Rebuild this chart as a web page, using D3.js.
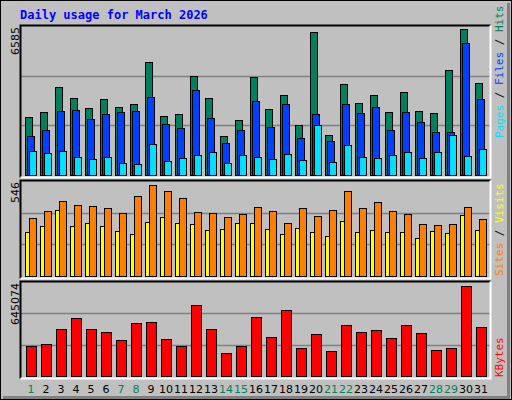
<!DOCTYPE html>
<html>
<head>
<meta charset="utf-8">
<script src="https://cdn.jsdelivr.net/npm/d3@7"></script>
<style>
  body { margin: 0; background: #fff; }
  svg text { font-family: "DejaVu Sans Mono", monospace; }
</style>
</head>
<body>
<svg id="chart" width="512" height="400"></svg>
<script>
// daily values
var days = d3.range(1, 32);
var weekend = [1, 7, 8, 14, 15, 21, 22, 28, 29];
var hits = [2636, 2860, 3983, 3489, 3040, 3444, 3085, 3219, 5105, 2681, 2770, 4477, 3489, 1783, 2501, 4432,
  2995, 3624, 2276, 6452, 1827, 4117, 3264, 3624, 2860, 3758, 2905, 2815, 4746, 6585, 4162];
var files = [1783, 2052, 2905, 2950, 2546, 2770, 2860, 2905, 3534, 2321, 2142, 3848, 2591, 1424, 2052, 3354,
  2187, 3219, 1693, 2770, 1558, 3219, 2815, 3085, 2052, 2860, 2411, 1962, 1962, 5958, 3444];
var pages = [1064, 974, 1064, 795, 705, 795, 525, 480, 1423, 615, 750, 885, 1019, 525, 885, 795,
  705, 929, 660, 2276, 570, 1334, 795, 750, 885, 1019, 750, 1019, 1827, 840, 1154];
var sites = [261, 297, 398, 297, 320, 297, 267, 249, 326, 356, 315, 309, 273, 279, 315, 320,
  279, 249, 285, 261, 237, 332, 261, 273, 261, 261, 226, 267, 255, 368, 273];
var visits = [350, 392, 451, 427, 421, 410, 380, 481, 546, 510, 469, 386, 380, 356, 374, 415,
  392, 320, 410, 362, 398, 510, 410, 445, 392, 374, 309, 303, 309, 415, 344];
var kbytes = [212670, 226848, 340272, 418257, 333183, 311916, 255204, 382812, 389901, 262293, 212670,
  510408, 340272, 163047, 212670, 425340, 276471, 474963, 198492, 297738, 177225, 368634, 311916,
  326094, 269382, 368634, 304827, 184314, 198492, 645074, 354450];
var maxLabels = ["6585", "546", "645074"];

var svg = d3.select("#chart");
svg.append("rect").attr("width", 512).attr("height", 400).attr("fill", "#c0c0c0");
// outer frame
svg.append("path").attr("d", "M0.5,399.5V0.5H511.5").attr("stroke", "#fff").attr("fill", "none");
svg.append("rect").attr("x", 0.5).attr("y", 0.5).attr("width", 511).attr("height", 399)
  .attr("fill", "none").attr("stroke", "#000");
svg.append("path").attr("d", "M3,397.5H508.5V3").attr("stroke", "#808080").attr("stroke-width", 3).attr("fill", "none");

svg.append("text").attr("x", 20).attr("y", 19).attr("fill", "#0000ff").attr("font-weight", "bold")
  .attr("font-size", 12).text("Daily usage for March 2026");

var x = d3.scaleBand().domain(days).range([21, 486]).paddingInner(0);

function panel(top, bottom, topMax) {
  svg.append("rect").attr("x", 20.5).attr("y", top + 0.5).attr("width", 470).attr("height", bottom - top)
    .attr("fill", "#c0c0c0");
  var y = d3.scaleLinear().domain([0, topMax]).range([bottom - 2, top + 1]);
  [1 / 3, 2 / 3].forEach(function (f) {
    var gy = Math.round(top + 1 + (bottom - top - 3) * f) + 0.5;
    svg.append("line").attr("x1", 21).attr("x2", 490).attr("y1", gy).attr("y2", gy)
      .attr("stroke", "#808080").attr("stroke-width", 1.5);
  });
  svg.append("path").attr("d", "M20.5," + (bottom + 0.5) + "V" + (top + 0.5) + "H490.5")
    .attr("stroke", "#000").attr("stroke-width", 2).attr("fill", "none");
  svg.append("path").attr("d", "M20.5," + (bottom + 0.5) + "H490.5V" + (top + 0.5))
    .attr("stroke", "#fff").attr("stroke-width", 2).attr("fill", "none");
  return y;
}

function bars(y, data, dx, w, color) {
  svg.append("g").selectAll("rect").data(data).enter().append("rect")
    .attr("x", function (d, i) { return x(days[i]) + dx + 0.5; })
    .attr("y", function (d) { return Math.round(y(d)) + 0.5; })
    .attr("width", w)
    .attr("height", function (d) { return Math.round(y(0) - y(d)); })
    .attr("fill", color).attr("stroke", "#000").attr("stroke-width", 1);
}

var y1 = panel(25, 177, 6585 * 150 / 146.7);
bars(y1, hits, 4, 7, "#00805c");
bars(y1, files, 6, 7, "#0040ff");
bars(y1, pages, 8, 7, "#00e0ff");

var y2 = panel(180, 278, 546 * 96 / 92);
bars(y2, sites, 4, 4, "#ffff00");
bars(y2, visits, 8, 7, "#ff8000");

var y3 = panel(281, 378, 645074 * 95 / 91);
bars(y3, kbytes, 5, 10, "#ff0000");

// max labels on the left
[[25, 0], [180, 1], [281, 2]].forEach(function (p) {
  svg.append("text").attr("transform", "translate(19," + (p[0] + 2) + ") rotate(-90)")
    .attr("text-anchor", "end").attr("font-family", "DejaVu Sans").attr("font-size", 11)
    .style("font-family", "DejaVu Sans").text(maxLabels[p[1]]);
});

// legends on the right
function legend(yBottom, parts) {
  var t = svg.append("text").attr("transform", "translate(503," + yBottom + ") rotate(-90)")
    .attr("font-size", 11);
  parts.forEach(function (p) { t.append("tspan").attr("fill", p[1]).text(p[0]); });
}
legend(138, [["Pages", "#00e0ff"], [" / ", "#000"], ["Files", "#0040ff"], [" / ", "#000"], ["Hits", "#00805c"]]);
legend(276, [["Sites", "#ff8000"], [" / ", "#000"], ["Visits", "#ffff00"]]);
legend(377, [["KBytes", "#ff0000"]]);

// day labels
svg.append("g").selectAll("text").data(days).enter().append("text")
  .attr("x", function (d) { return x(d) + 10; })
  .attr("y", 393).attr("text-anchor", "middle").attr("font-size", 11)
  .style("font-family", "DejaVu Sans")
  .attr("fill", function (d) { return weekend.indexOf(d) >= 0 ? "#00805c" : "#000"; })
  .text(function (d) { return d; });
</script>
</body>
</html>
